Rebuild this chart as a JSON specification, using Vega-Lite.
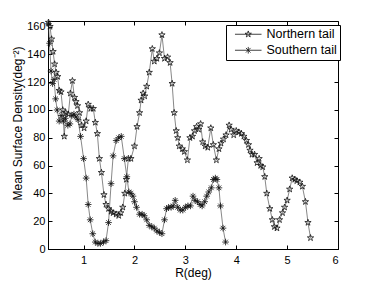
{
  "$schema": "https://vega.github.io/schema/vega-lite/v6.json",
  "width": 290,
  "height": 228,
  "autosize": {"type": "none"},
  "padding": {"left": 48, "top": 21, "right": 36, "bottom": 32},
  "background": "white",
  "config": {
    "font": "Liberation Sans",
    "view": {"stroke": "black", "strokeWidth": 1},
    "legend": {"strokeColor": "black", "strokeWidth": 1, "fillColor": "white"},
    "axis": {
      "grid": false,
      "domainColor": "black",
      "domainWidth": 1,
      "tickColor": "black",
      "tickWidth": 1,
      "tickSize": -4,
      "labelColor": "black",
      "labelFontSize": 11,
      "labelFont": "Liberation Sans",
      "titleColor": "black",
      "titleFont": "Liberation Sans",
      "titleFontSize": 12,
      "titleFontWeight": "normal"
    }
  },
  "data": {
    "values": [
      {"s": "Northern tail", "R": 0.31, "D": 163},
      {"s": "Northern tail", "R": 0.34, "D": 160},
      {"s": "Northern tail", "R": 0.37, "D": 151},
      {"s": "Northern tail", "R": 0.40, "D": 142},
      {"s": "Northern tail", "R": 0.43, "D": 133},
      {"s": "Northern tail", "R": 0.46, "D": 127},
      {"s": "Northern tail", "R": 0.49, "D": 124},
      {"s": "Northern tail", "R": 0.52, "D": 114},
      {"s": "Northern tail", "R": 0.555, "D": 113},
      {"s": "Northern tail", "R": 0.59, "D": 100},
      {"s": "Northern tail", "R": 0.62, "D": 81},
      {"s": "Northern tail", "R": 0.65, "D": 98},
      {"s": "Northern tail", "R": 0.70, "D": 97},
      {"s": "Northern tail", "R": 0.74, "D": 112},
      {"s": "Northern tail", "R": 0.78, "D": 121},
      {"s": "Northern tail", "R": 0.82, "D": 109},
      {"s": "Northern tail", "R": 0.85, "D": 106},
      {"s": "Northern tail", "R": 0.88, "D": 103},
      {"s": "Northern tail", "R": 0.92, "D": 98},
      {"s": "Northern tail", "R": 0.96, "D": 89},
      {"s": "Northern tail", "R": 1.01, "D": 87},
      {"s": "Northern tail", "R": 1.05, "D": 92},
      {"s": "Northern tail", "R": 1.09, "D": 104},
      {"s": "Northern tail", "R": 1.14, "D": 101},
      {"s": "Northern tail", "R": 1.19, "D": 101},
      {"s": "Northern tail", "R": 1.23, "D": 91},
      {"s": "Northern tail", "R": 1.27, "D": 83},
      {"s": "Northern tail", "R": 1.31, "D": 65},
      {"s": "Northern tail", "R": 1.35, "D": 55},
      {"s": "Northern tail", "R": 1.40, "D": 39},
      {"s": "Northern tail", "R": 1.44, "D": 32},
      {"s": "Northern tail", "R": 1.49, "D": 29},
      {"s": "Northern tail", "R": 1.54, "D": 27},
      {"s": "Northern tail", "R": 1.58, "D": 26},
      {"s": "Northern tail", "R": 1.64, "D": 25},
      {"s": "Northern tail", "R": 1.69, "D": 24},
      {"s": "Northern tail", "R": 1.73, "D": 26},
      {"s": "Northern tail", "R": 1.77, "D": 30},
      {"s": "Northern tail", "R": 1.81, "D": 40},
      {"s": "Northern tail", "R": 1.84, "D": 50},
      {"s": "Northern tail", "R": 1.88, "D": 65},
      {"s": "Northern tail", "R": 1.93, "D": 65},
      {"s": "Northern tail", "R": 2.00, "D": 74},
      {"s": "Northern tail", "R": 2.05, "D": 88},
      {"s": "Northern tail", "R": 2.10, "D": 98},
      {"s": "Northern tail", "R": 2.13, "D": 107},
      {"s": "Northern tail", "R": 2.17, "D": 112},
      {"s": "Northern tail", "R": 2.20, "D": 110},
      {"s": "Northern tail", "R": 2.24, "D": 117},
      {"s": "Northern tail", "R": 2.29, "D": 127},
      {"s": "Northern tail", "R": 2.35, "D": 144},
      {"s": "Northern tail", "R": 2.39, "D": 135},
      {"s": "Northern tail", "R": 2.44, "D": 137},
      {"s": "Northern tail", "R": 2.49, "D": 141},
      {"s": "Northern tail", "R": 2.54, "D": 154},
      {"s": "Northern tail", "R": 2.59, "D": 137},
      {"s": "Northern tail", "R": 2.65, "D": 138},
      {"s": "Northern tail", "R": 2.70, "D": 134},
      {"s": "Northern tail", "R": 2.74, "D": 119},
      {"s": "Northern tail", "R": 2.78, "D": 98},
      {"s": "Northern tail", "R": 2.82, "D": 85},
      {"s": "Northern tail", "R": 2.85, "D": 80},
      {"s": "Northern tail", "R": 2.88, "D": 74},
      {"s": "Northern tail", "R": 2.94, "D": 72},
      {"s": "Northern tail", "R": 2.98, "D": 70},
      {"s": "Northern tail", "R": 3.04, "D": 64},
      {"s": "Northern tail", "R": 3.09, "D": 80},
      {"s": "Northern tail", "R": 3.14, "D": 81},
      {"s": "Northern tail", "R": 3.18, "D": 85},
      {"s": "Northern tail", "R": 3.22, "D": 88},
      {"s": "Northern tail", "R": 3.26, "D": 86},
      {"s": "Northern tail", "R": 3.30, "D": 90},
      {"s": "Northern tail", "R": 3.34, "D": 77},
      {"s": "Northern tail", "R": 3.39, "D": 74},
      {"s": "Northern tail", "R": 3.44, "D": 73},
      {"s": "Northern tail", "R": 3.50, "D": 87},
      {"s": "Northern tail", "R": 3.55, "D": 75},
      {"s": "Northern tail", "R": 3.61, "D": 64},
      {"s": "Northern tail", "R": 3.66, "D": 72},
      {"s": "Northern tail", "R": 3.70, "D": 76},
      {"s": "Northern tail", "R": 3.75, "D": 79},
      {"s": "Northern tail", "R": 3.80, "D": 82},
      {"s": "Northern tail", "R": 3.86, "D": 89},
      {"s": "Northern tail", "R": 3.90, "D": 86},
      {"s": "Northern tail", "R": 3.95, "D": 82},
      {"s": "Northern tail", "R": 4.00, "D": 85},
      {"s": "Northern tail", "R": 4.05, "D": 84},
      {"s": "Northern tail", "R": 4.10, "D": 83},
      {"s": "Northern tail", "R": 4.15, "D": 81},
      {"s": "Northern tail", "R": 4.20, "D": 78},
      {"s": "Northern tail", "R": 4.24, "D": 75},
      {"s": "Northern tail", "R": 4.27, "D": 71},
      {"s": "Northern tail", "R": 4.31, "D": 68},
      {"s": "Northern tail", "R": 4.36, "D": 68},
      {"s": "Northern tail", "R": 4.41, "D": 62},
      {"s": "Northern tail", "R": 4.45, "D": 65},
      {"s": "Northern tail", "R": 4.48, "D": 60},
      {"s": "Northern tail", "R": 4.52, "D": 59},
      {"s": "Northern tail", "R": 4.56, "D": 52},
      {"s": "Northern tail", "R": 4.60, "D": 40},
      {"s": "Northern tail", "R": 4.66, "D": 29},
      {"s": "Northern tail", "R": 4.71, "D": 21},
      {"s": "Northern tail", "R": 4.75, "D": 16},
      {"s": "Northern tail", "R": 4.80, "D": 15},
      {"s": "Northern tail", "R": 4.85, "D": 21},
      {"s": "Northern tail", "R": 4.91, "D": 26},
      {"s": "Northern tail", "R": 4.95, "D": 30},
      {"s": "Northern tail", "R": 5.00, "D": 35},
      {"s": "Northern tail", "R": 5.05, "D": 43},
      {"s": "Northern tail", "R": 5.10, "D": 51},
      {"s": "Northern tail", "R": 5.15, "D": 50},
      {"s": "Northern tail", "R": 5.19, "D": 49},
      {"s": "Northern tail", "R": 5.25, "D": 48},
      {"s": "Northern tail", "R": 5.30, "D": 45},
      {"s": "Northern tail", "R": 5.36, "D": 34},
      {"s": "Northern tail", "R": 5.41, "D": 19},
      {"s": "Northern tail", "R": 5.46, "D": 8},
      {"s": "Southern tail", "R": 0.31, "D": 162},
      {"s": "Southern tail", "R": 0.33, "D": 148},
      {"s": "Southern tail", "R": 0.36, "D": 128},
      {"s": "Southern tail", "R": 0.39, "D": 119},
      {"s": "Southern tail", "R": 0.42, "D": 122},
      {"s": "Southern tail", "R": 0.45, "D": 108},
      {"s": "Southern tail", "R": 0.48, "D": 100},
      {"s": "Southern tail", "R": 0.52, "D": 92},
      {"s": "Southern tail", "R": 0.56, "D": 96},
      {"s": "Southern tail", "R": 0.60, "D": 92},
      {"s": "Southern tail", "R": 0.64, "D": 94},
      {"s": "Southern tail", "R": 0.69, "D": 89},
      {"s": "Southern tail", "R": 0.73, "D": 90},
      {"s": "Southern tail", "R": 0.77, "D": 96},
      {"s": "Southern tail", "R": 0.81, "D": 97},
      {"s": "Southern tail", "R": 0.85, "D": 95},
      {"s": "Southern tail", "R": 0.89, "D": 93},
      {"s": "Southern tail", "R": 0.94, "D": 81},
      {"s": "Southern tail", "R": 1.00, "D": 65},
      {"s": "Southern tail", "R": 1.05, "D": 51},
      {"s": "Southern tail", "R": 1.09, "D": 32},
      {"s": "Southern tail", "R": 1.13, "D": 21},
      {"s": "Southern tail", "R": 1.18, "D": 11},
      {"s": "Southern tail", "R": 1.23, "D": 5},
      {"s": "Southern tail", "R": 1.28, "D": 4},
      {"s": "Southern tail", "R": 1.33, "D": 4},
      {"s": "Southern tail", "R": 1.39, "D": 5},
      {"s": "Southern tail", "R": 1.44, "D": 6},
      {"s": "Southern tail", "R": 1.49, "D": 19},
      {"s": "Southern tail", "R": 1.54, "D": 47},
      {"s": "Southern tail", "R": 1.58, "D": 67},
      {"s": "Southern tail", "R": 1.64, "D": 78},
      {"s": "Southern tail", "R": 1.69, "D": 80},
      {"s": "Southern tail", "R": 1.74, "D": 81},
      {"s": "Southern tail", "R": 1.80, "D": 65},
      {"s": "Southern tail", "R": 1.85, "D": 52},
      {"s": "Southern tail", "R": 1.89, "D": 41},
      {"s": "Southern tail", "R": 1.93, "D": 40},
      {"s": "Southern tail", "R": 1.97, "D": 38},
      {"s": "Southern tail", "R": 2.00, "D": 34},
      {"s": "Southern tail", "R": 2.04, "D": 30},
      {"s": "Southern tail", "R": 2.10, "D": 25},
      {"s": "Southern tail", "R": 2.15, "D": 25},
      {"s": "Southern tail", "R": 2.19, "D": 24},
      {"s": "Southern tail", "R": 2.24, "D": 21},
      {"s": "Southern tail", "R": 2.29, "D": 17},
      {"s": "Southern tail", "R": 2.34, "D": 16},
      {"s": "Southern tail", "R": 2.39, "D": 15},
      {"s": "Southern tail", "R": 2.44, "D": 13},
      {"s": "Southern tail", "R": 2.49, "D": 12},
      {"s": "Southern tail", "R": 2.54, "D": 11},
      {"s": "Southern tail", "R": 2.59, "D": 21},
      {"s": "Southern tail", "R": 2.63, "D": 29},
      {"s": "Southern tail", "R": 2.67, "D": 30},
      {"s": "Southern tail", "R": 2.72, "D": 30},
      {"s": "Southern tail", "R": 2.76, "D": 31},
      {"s": "Southern tail", "R": 2.80, "D": 35},
      {"s": "Southern tail", "R": 2.85, "D": 30},
      {"s": "Southern tail", "R": 2.90, "D": 28},
      {"s": "Southern tail", "R": 2.95, "D": 28},
      {"s": "Southern tail", "R": 3.00, "D": 30},
      {"s": "Southern tail", "R": 3.05, "D": 31},
      {"s": "Southern tail", "R": 3.10, "D": 31},
      {"s": "Southern tail", "R": 3.15, "D": 38},
      {"s": "Southern tail", "R": 3.19, "D": 35},
      {"s": "Southern tail", "R": 3.24, "D": 34},
      {"s": "Southern tail", "R": 3.29, "D": 32},
      {"s": "Southern tail", "R": 3.33, "D": 31},
      {"s": "Southern tail", "R": 3.38, "D": 34},
      {"s": "Southern tail", "R": 3.42, "D": 38},
      {"s": "Southern tail", "R": 3.46, "D": 41},
      {"s": "Southern tail", "R": 3.51, "D": 44},
      {"s": "Southern tail", "R": 3.55, "D": 50},
      {"s": "Southern tail", "R": 3.59, "D": 51},
      {"s": "Southern tail", "R": 3.62, "D": 50},
      {"s": "Southern tail", "R": 3.66, "D": 44},
      {"s": "Southern tail", "R": 3.69, "D": 31},
      {"s": "Southern tail", "R": 3.74, "D": 15},
      {"s": "Southern tail", "R": 3.79, "D": 5}
    ]
  },
  "resolve": {
    "axis": {"x": "independent", "y": "independent"},
    "scale": {"shape": "independent"},
    "legend": {"shape": "independent"}
  },
  "layer": [
    {
      "mark": {"type": "line", "stroke": "#555", "strokeWidth": 0.7},
      "encoding": {
        "x": {"field": "R", "type": "quantitative", "scale": {"domain": [0.3, 6], "nice": false, "zero": false},
              "axis": {"orient": "bottom", "values": [1, 2, 3, 4, 5, 6], "title": "R(deg)", "labelPadding": 9, "titlePadding": 2}},
        "y": {"field": "D", "type": "quantitative", "scale": {"domain": [0, 164], "nice": false},
              "axis": {"orient": "left", "values": [0, 20, 40, 60, 80, 100, 120, 140, 160], "title": "Mean Surface Density(deg⁻²)", "labelPadding": 7, "titlePadding": 2, "titleY": 102}},
        "detail": {"field": "s", "type": "nominal"}
      }
    },
    {
      "mark": {"type": "point", "filled": false, "stroke": "#111", "strokeWidth": 0.8, "opacity": 1, "size": 44},
      "encoding": {
        "x": {"field": "R", "type": "quantitative", "axis": null},
        "y": {"field": "D", "type": "quantitative", "axis": null},
        "shape": {
          "field": "s", "type": "nominal",
          "scale": {
            "domain": ["Northern tail", "Southern tail"],
            "range": [
              "M0,-1L0.225,-0.309L0.951,-0.309L0.363,0.118L0.588,0.809L0,0.382L-0.588,0.809L-0.363,0.118L-0.951,-0.309L-0.225,-0.309Z",
              "M0,-1L0,1M-1,0L1,0M-0.7,-0.7L0.7,0.7M-0.7,0.7L0.7,-0.7"
            ]
          },
          "legend": null
        }
      }
    },
    {
      "transform": [{"filter": "false"}],
      "mark": {"type": "point", "filled": false, "stroke": "#111", "strokeWidth": 0.8, "opacity": 1, "size": 44},
      "encoding": {
        "x": {"field": "R", "type": "quantitative", "axis": null},
        "y": {"field": "D", "type": "quantitative", "axis": null},
        "shape": {
          "field": "s", "type": "nominal",
          "scale": {
            "domain": ["Northern tail", "Southern tail"],
            "range": [
              "M-4,0L4,0M0,-1L0.225,-0.309L0.951,-0.309L0.363,0.118L0.588,0.809L0,0.382L-0.588,0.809L-0.363,0.118L-0.951,-0.309L-0.225,-0.309Z",
              "M-4,0L4,0M0,-1L0,1M-0.7,-0.7L0.7,0.7M-0.7,0.7L0.7,-0.7"
            ]
          },
          "legend": {
            "title": null,
            "orient": "none",
            "legendX": 178,
            "legendY": 4,
            "strokeColor": "black",
            "fillColor": "white",
            "padding": 3,
            "rowPadding": 3,
            "symbolOffset": 13,
            "labelOffset": 12,
            "labelFontSize": 12.5,
            "labelFont": "Liberation Sans",
            "labelColor": "black",
            "symbolSize": 44,
            "symbolStrokeColor": "#111",
            "symbolStrokeWidth": 0.8
          }
        }
      }
    },
    {
      "mark": {"type": "point", "opacity": 0},
      "encoding": {
        "x": {"field": "R", "type": "quantitative",
              "axis": {"orient": "top", "values": [1, 2, 3, 4, 5, 6], "labels": false, "title": null, "domain": false}},
        "y": {"field": "D", "type": "quantitative",
              "axis": {"orient": "right", "values": [0, 20, 40, 60, 80, 100, 120, 140, 160], "labels": false, "title": null, "domain": false}}
      }
    }
  ]
}
